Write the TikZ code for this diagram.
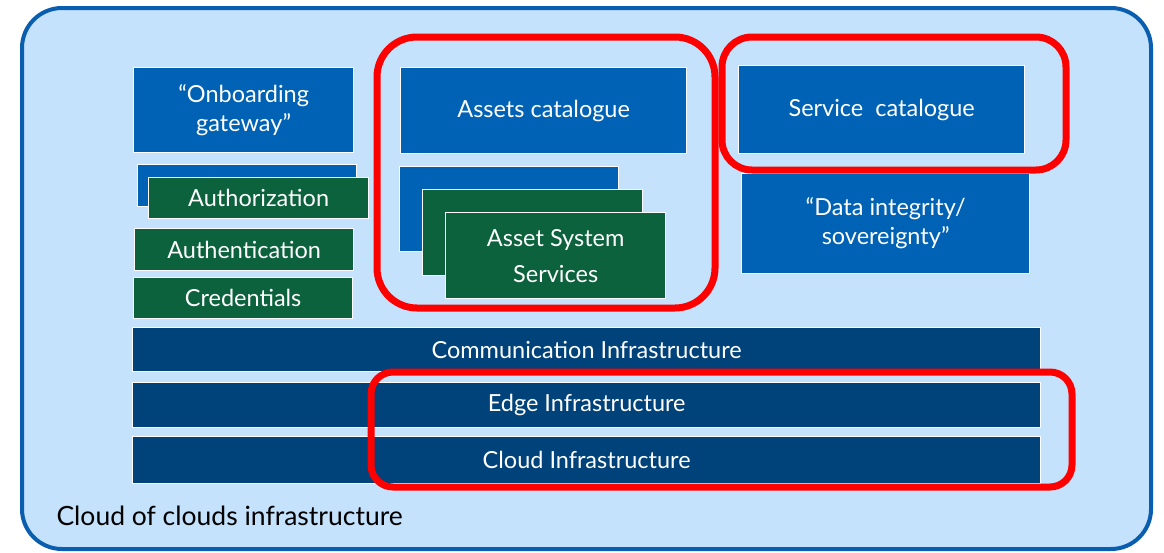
\documentclass[tikz,border=0pt]{standalone}
\usepackage{fontspec}
\setmainfont{Lato}
\usetikzlibrary{positioning}
\definecolor{cocbg}{HTML}{C4E2FC}
\definecolor{cocframe}{HTML}{0A5EB0}
\definecolor{cocblue}{HTML}{0062B5}
\definecolor{cocgreen}{HTML}{0C623C}
\definecolor{cocnavy}{HTML}{00427A}
\definecolor{cocred}{HTML}{FF0000}
\tikzset{
  blk/.style={draw=white, line width=1.3pt, text=white, align=center,
    font=\fontsize{23.5}{29}\selectfont, inner sep=0pt, anchor=north west},
  bluebox/.style={blk, fill=cocblue},
  greenbox/.style={blk, fill=cocgreen},
  navybar/.style={blk, fill=cocnavy, minimum width=908pt},
  hilite/.style={draw=cocred, line width=7pt},
}
\begin{document}
\begin{tikzpicture}[x=1pt, y=-1pt]
    \useasboundingbox (0,0) rectangle (1164,552);
    \draw[fill=cocbg, draw=cocframe, line width=4pt, rounded corners=40pt]
        (22,8) rectangle (1151,549);
    \node[anchor=west, font=\fontsize{26.5}{30}\selectfont] (cocLabel) at (53,516) {Cloud of clouds infrastructure};

    % left column
    \node[bluebox, minimum width=220pt, minimum height=85pt] (onboard) at (133,67) {“Onboarding\\gateway”};
    \node[bluebox, minimum width=219pt, minimum height=42pt] (authzBack) at (137,164) {};
    \node[greenbox, minimum width=220pt, minimum height=41pt] (authz) at (148,177) {Authorization};
    \node[greenbox, minimum width=219pt, minimum height=42pt] (authn) at (134,228) {Authentication};
    \node[greenbox, minimum width=219pt, minimum height=41pt] (cred) at (133,277) {Credentials};

    % assets column
    \node[bluebox, minimum width=286pt, minimum height=86pt] (assetsCat) at (400,67) {Assets catalogue};
    \node[bluebox, minimum width=219pt, minimum height=85pt] (assetBack) at (399,166) {};
    \node[greenbox, minimum width=220pt, minimum height=86pt] (assetMid) at (422,189) {};
    \node[greenbox, minimum width=220pt, minimum height=86pt, font=\fontsize{23.5}{36}\selectfont] (assetSys) at (445,212) {Asset System\\Services};

    % service column
    \node[bluebox, minimum width=286pt, minimum height=88pt] (serviceCat) at (738,65) {Service~ catalogue};
    \node[bluebox, minimum width=288pt, minimum height=100pt] (dataInt) at (741,173) {“Data integrity/\\sovereignty”};

    % infrastructure layers
    \node[navybar, minimum height=44pt] (commInfra) at (132,327) {Communication Infrastructure};
    \node[navybar, minimum height=45pt] (edgeInfra) at (132,382) {Edge Infrastructure};
    \node[navybar, minimum height=47pt] (cloudInfra) at (132,436) {Cloud Infrastructure};

    % highlights
    \draw[hilite, rounded corners=40pt] (377,37) rectangle (715,308);
    \draw[hilite, rounded corners=30pt] (722,37) rectangle (1066,170);
    \draw[hilite, rounded corners=22pt] (371,372) rectangle (1072,487);
\end{tikzpicture}
\end{document}
